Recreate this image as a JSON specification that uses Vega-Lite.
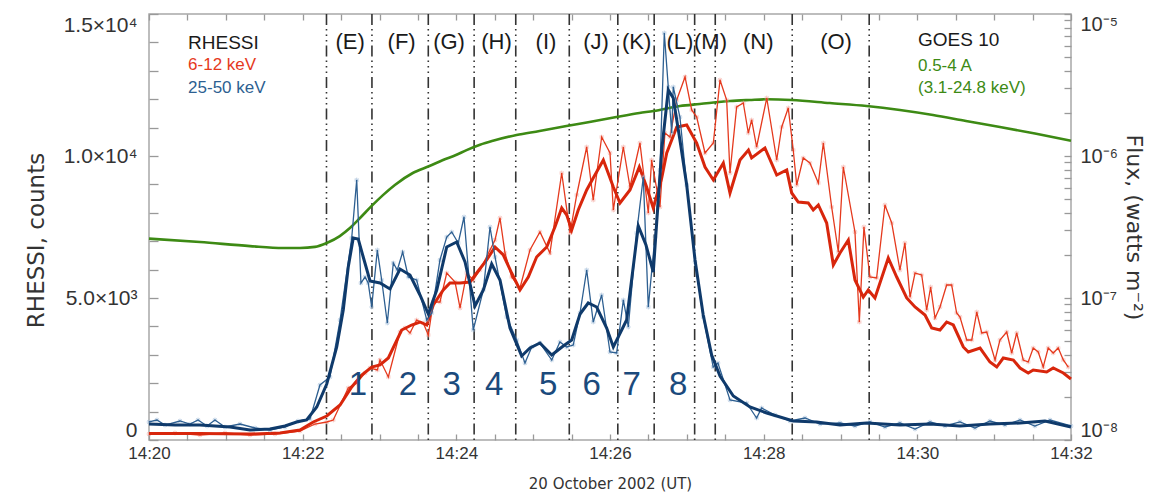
{
  "$schema": "https://vega.github.io/schema/vega-lite/v6.json",
  "width": 922,
  "height": 426,
  "autosize": {"type": "none"},
  "padding": {"left": 149, "top": 14, "right": 90, "bottom": 54},
  "background": "white",
  "config": {
    "view": {"stroke": "#a8a8a8", "strokeWidth": 1.5},
    "axis": {"domain": false, "grid": false, "tickColor": "#999999", "tickWidth": 1.3, "labelColor": "#333333", "titleColor": "#333333", "labelFont": "Liberation Sans", "titleFont": "DejaVu Sans", "titleFontWeight": "normal"},
    "text": {"font": "Liberation Sans"}
  },
  "datasets": {
    "bounds": [{"t":138.6},{"t":174.1},{"t":218.1},{"t":253.9},{"t":286.4},{"t":328.2},{"t":366.1},{"t":394.5},{"t":426.1},{"t":442.2},{"t":502.3},{"t":562.4}],
    "goes": [{"t":0,"f":2.62e-7},{"t":39.8,"f":2.48e-7},{"t":78.9,"f":2.32e-7},{"t":104.6,"f":2.25e-7},{"t":117.9,"f":2.25e-7},{"t":129.6,"f":2.29e-7},{"t":138.8,"f":2.44e-7},{"t":149,"f":2.73e-7},{"t":156.9,"f":3.11e-7},{"t":164.8,"f":3.66e-7},{"t":173.9,"f":4.45e-7},{"t":182.7,"f":5.3e-7},{"t":192,"f":6.25e-7},{"t":206,"f":7.59e-7},{"t":219,"f":8.5e-7},{"t":229.6,"f":9.37e-7},{"t":239.7,"f":1.016e-6},{"t":248,"f":1.1e-6},{"t":258.5,"f":1.2e-6},{"t":268.6,"f":1.28e-6},{"t":287,"f":1.406e-6},{"t":305,"f":1.5e-6},{"t":326,"f":1.627e-6},{"t":344,"f":1.736e-6},{"t":365,"f":1.882e-6},{"t":383,"f":2.008e-6},{"t":394,"f":2.075e-6},{"t":414.6,"f":2.25e-6},{"t":430,"f":2.324e-6},{"t":453.7,"f":2.44e-6},{"t":469,"f":2.48e-6},{"t":482.4,"f":2.508e-6},{"t":501.9,"f":2.48e-6},{"t":531.6,"f":2.361e-6},{"t":560.4,"f":2.25e-6},{"t":586.4,"f":2.109e-6},{"t":612.2,"f":1.944e-6},{"t":638,"f":1.764e-6},{"t":664.5,"f":1.6e-6},{"t":691.9,"f":1.44e-6},{"t":720,"f":1.281e-6}],
    "blueThick": [{"t":0,"c":563},{"t":20.3,"c":528},{"t":39.8,"c":528},{"t":63.3,"c":458},{"t":78.9,"c":352},{"t":94.5,"c":387},{"t":106.2,"c":493},{"t":115.3,"c":634},{"t":123.1,"c":704},{"t":131,"c":1162},{"t":138.8,"c":1972},{"t":146.6,"c":3275},{"t":151.7,"c":4577},{"t":155.6,"c":6092},{"t":159.5,"c":7113},{"t":163.4,"c":7077},{"t":167.3,"c":6444},{"t":172.6,"c":5599},{"t":180.4,"c":5528},{"t":188.2,"c":5317},{"t":196,"c":6021},{"t":203.8,"c":5810},{"t":211.6,"c":5106},{"t":218.1,"c":4437},{"t":224.7,"c":5282},{"t":232.5,"c":6796},{"t":240.3,"c":6972},{"t":246.8,"c":6268},{"t":254.6,"c":4718},{"t":261.1,"c":5282},{"t":267.6,"c":6197},{"t":274.1,"c":5634},{"t":281.9,"c":3944},{"t":291,"c":2958},{"t":297.5,"c":3239},{"t":305.3,"c":3415},{"t":314.5,"c":2993},{"t":323.5,"c":3310},{"t":330.1,"c":3521},{"t":336.6,"c":4437},{"t":343,"c":4824},{"t":349.6,"c":4683},{"t":357.4,"c":3944},{"t":362.6,"c":3275},{"t":373,"c":4225},{"t":382.1,"c":7535},{"t":388.1,"c":6866},{"t":393.8,"c":5915},{"t":400.4,"c":10211},{"t":405.5,"c":12324},{"t":409.4,"c":12042},{"t":414.6,"c":10563},{"t":419.9,"c":8979},{"t":426.4,"c":6338},{"t":432.8,"c":4401},{"t":439.4,"c":2993},{"t":445.9,"c":2253},{"t":456.3,"c":1549},{"t":469.3,"c":1162},{"t":482.4,"c":951},{"t":503.1,"c":669},{"t":521.4,"c":634},{"t":539.6,"c":528},{"t":560.4,"c":599},{"t":586.4,"c":528},{"t":609.9,"c":563},{"t":633.3,"c":493},{"t":656.7,"c":563},{"t":680.2,"c":599},{"t":699.7,"c":669},{"t":720,"c":458}],
    "blueThin": [{"t":0,"c":634},{"t":6.2,"c":704},{"t":12.5,"c":528},{"t":24.2,"c":669},{"t":32,"c":563},{"t":38.3,"c":704},{"t":45.3,"c":493},{"t":51.5,"c":704},{"t":59.3,"c":458},{"t":71.1,"c":563},{"t":82.8,"c":423},{"t":94.5,"c":352},{"t":106.2,"c":458},{"t":116.4,"c":669},{"t":125.7,"c":739},{"t":133.5,"c":1937},{"t":141.3,"c":2218},{"t":149.2,"c":4225},{"t":158.3,"c":7113},{"t":162.2,"c":9155},{"t":165.5,"c":5528},{"t":168.7,"c":5739},{"t":171.2,"c":5528},{"t":173.9,"c":4683},{"t":178.3,"c":6690},{"t":181.7,"c":5634},{"t":186.1,"c":4120},{"t":190.8,"c":6232},{"t":193.9,"c":5986},{"t":198.1,"c":6620},{"t":202.5,"c":5739},{"t":209,"c":5634},{"t":216.9,"c":4225},{"t":220.8,"c":4472},{"t":227.2,"c":6338},{"t":232.5,"c":7148},{"t":236.4,"c":7324},{"t":241.5,"c":6937},{"t":246,"c":7852},{"t":253.2,"c":3873},{"t":261.1,"c":5282},{"t":266.3,"c":7500},{"t":270.2,"c":6444},{"t":279.3,"c":4331},{"t":287.1,"c":3521},{"t":293.6,"c":2711},{"t":298.9,"c":3275},{"t":305.3,"c":3415},{"t":314.5,"c":2817},{"t":320.9,"c":3451},{"t":326.2,"c":3275},{"t":331.3,"c":3345},{"t":336.6,"c":4472},{"t":341.8,"c":5986},{"t":346.9,"c":4155},{"t":353.5,"c":5106},{"t":360,"c":3099},{"t":365.2,"c":3063},{"t":370.4,"c":4930},{"t":374.3,"c":3979},{"t":380.8,"c":7289},{"t":386,"c":9260},{"t":389.9,"c":4683},{"t":395.1,"c":7148},{"t":399,"c":9507},{"t":402.4,"c":14331},{"t":405.5,"c":12430},{"t":408.2,"c":10810},{"t":409.4,"c":12430},{"t":414.6,"c":11373},{"t":419.9,"c":8979},{"t":426.4,"c":6268},{"t":432.8,"c":4331},{"t":440.6,"c":2570},{"t":444.3,"c":2711},{"t":453.7,"c":1408},{"t":466.7,"c":1303},{"t":474.5,"c":775},{"t":478.4,"c":1127},{"t":488.8,"c":880},{"t":500.6,"c":669},{"t":512.3,"c":775},{"t":524,"c":563},{"t":539.6,"c":599},{"t":551.3,"c":493},{"t":563,"c":634},{"t":574.7,"c":458},{"t":586.4,"c":599},{"t":598.2,"c":387},{"t":609.9,"c":634},{"t":621.6,"c":493},{"t":633.3,"c":634},{"t":645,"c":423},{"t":656.7,"c":669},{"t":668.4,"c":528},{"t":680.2,"c":704},{"t":691.8,"c":493},{"t":703.6,"c":704},{"t":720,"c":493}],
    "redThick": [{"t":0,"c":229},{"t":39.8,"c":229},{"t":78.9,"c":211},{"t":102.3,"c":246},{"t":117.9,"c":352},{"t":128.3,"c":634},{"t":138.8,"c":845},{"t":149.2,"c":1232},{"t":158.3,"c":1866},{"t":166.1,"c":2289},{"t":173.9,"c":2570},{"t":180.4,"c":2641},{"t":186.9,"c":2887},{"t":197.3,"c":3873},{"t":205.1,"c":4049},{"t":211.6,"c":4155},{"t":216.9,"c":4049},{"t":222,"c":4753},{"t":229.8,"c":5282},{"t":235,"c":5528},{"t":242.9,"c":5528},{"t":250.7,"c":5563},{"t":255.9,"c":5880},{"t":263.7,"c":6338},{"t":270.2,"c":6796},{"t":276.7,"c":6514},{"t":283.2,"c":5880},{"t":289.7,"c":5282},{"t":296.2,"c":5739},{"t":302.7,"c":6444},{"t":310.6,"c":6796},{"t":317,"c":7500},{"t":322.3,"c":8169},{"t":326.2,"c":7922},{"t":330.1,"c":7394},{"t":335.2,"c":8099},{"t":341.8,"c":8803},{"t":346.9,"c":9225},{"t":354.8,"c":9859},{"t":362.6,"c":8908},{"t":367.8,"c":8345},{"t":375.6,"c":8803},{"t":382.9,"c":9613},{"t":388.6,"c":8908},{"t":393.8,"c":8169},{"t":400.4,"c":9225},{"t":404.3,"c":10106},{"t":412.1,"c":11021},{"t":419.9,"c":11091},{"t":427.7,"c":10458},{"t":434.2,"c":9613},{"t":440.7,"c":9155},{"t":448.5,"c":9753},{"t":453.7,"c":8697},{"t":461.5,"c":9859},{"t":468.1,"c":10211},{"t":470.6,"c":9930},{"t":481,"c":10281},{"t":490.2,"c":9331},{"t":498,"c":9507},{"t":501.9,"c":8697},{"t":507,"c":8380},{"t":514.8,"c":8345},{"t":518.7,"c":8099},{"t":522.7,"c":8275},{"t":529.2,"c":7641},{"t":534.4,"c":6162},{"t":539.6,"c":6584},{"t":546.1,"c":7042},{"t":551.3,"c":5634},{"t":557.8,"c":5035},{"t":561.7,"c":5282},{"t":566.9,"c":5000},{"t":577.3,"c":6408},{"t":583.9,"c":5739},{"t":591.7,"c":5000},{"t":598.2,"c":4683},{"t":606,"c":4401},{"t":611.2,"c":3944},{"t":617.7,"c":3873},{"t":622.9,"c":4155},{"t":628.1,"c":4049},{"t":635.9,"c":3275},{"t":639.8,"c":3099},{"t":649,"c":3239},{"t":656.7,"c":2746},{"t":662,"c":2570},{"t":667.1,"c":2887},{"t":675,"c":2817},{"t":680.2,"c":2535},{"t":686.6,"c":2359},{"t":690.5,"c":2465},{"t":701,"c":2394},{"t":706.1,"c":2535},{"t":714,"c":2359},{"t":720,"c":2148}],
    "redThin": [{"t":0,"c":211},{"t":20.3,"c":246},{"t":39.8,"c":176},{"t":59.3,"c":246},{"t":78.9,"c":176},{"t":98.4,"c":211},{"t":117.9,"c":317},{"t":129.6,"c":563},{"t":138.8,"c":634},{"t":143.9,"c":704},{"t":155.6,"c":1831},{"t":162.2,"c":2007},{"t":168.7,"c":2359},{"t":172.6,"c":2535},{"t":178.3,"c":2465},{"t":180.4,"c":2817},{"t":186.9,"c":2218},{"t":196,"c":3803},{"t":199.9,"c":3944},{"t":203.8,"c":3768},{"t":209,"c":4225},{"t":214.2,"c":4120},{"t":218.1,"c":3697},{"t":222,"c":4859},{"t":227.2,"c":4859},{"t":232.5,"c":5880},{"t":239,"c":5563},{"t":242.9,"c":4648},{"t":248.1,"c":5880},{"t":253.2,"c":5634},{"t":258.5,"c":5986},{"t":266.3,"c":6690},{"t":270.2,"c":7042},{"t":274.1,"c":7817},{"t":278,"c":6584},{"t":283.2,"c":5739},{"t":289.7,"c":5352},{"t":297.5,"c":6690},{"t":305.3,"c":7324},{"t":313.1,"c":6584},{"t":322.3,"c":9401},{"t":328.8,"c":7289},{"t":334,"c":8627},{"t":341.8,"c":10317},{"t":346.9,"c":8451},{"t":353.5,"c":10669},{"t":360,"c":10106},{"t":362.6,"c":8099},{"t":370.4,"c":10317},{"t":375.6,"c":8908},{"t":383.4,"c":10458},{"t":389.9,"c":7993},{"t":392.5,"c":9859},{"t":399,"c":8204},{"t":402.9,"c":10810},{"t":406.8,"c":10669},{"t":412.1,"c":11972},{"t":418.6,"c":12782},{"t":423.8,"c":11620},{"t":427.7,"c":11373},{"t":434.2,"c":10106},{"t":440.7,"c":10458},{"t":445.9,"c":12676},{"t":451.1,"c":11972},{"t":453.7,"c":9401},{"t":458.9,"c":11725},{"t":464.1,"c":11866},{"t":468,"c":10810},{"t":470.6,"c":11268},{"t":474.5,"c":10317},{"t":482.4,"c":12042},{"t":490.2,"c":9859},{"t":494.1,"c":11021},{"t":499.2,"c":11690},{"t":503.1,"c":10211},{"t":505.8,"c":8979},{"t":510.9,"c":9930},{"t":516.1,"c":9753},{"t":522.7,"c":9049},{"t":526.6,"c":10458},{"t":533.1,"c":8204},{"t":538.3,"c":6620},{"t":542.2,"c":9613},{"t":551.3,"c":7324},{"t":554.7,"c":4155},{"t":558.3,"c":7500},{"t":563,"c":5739},{"t":568.2,"c":5704},{"t":574.7,"c":8275},{"t":580,"c":7641},{"t":586.4,"c":5986},{"t":590.3,"c":6937},{"t":594.3,"c":5035},{"t":598.2,"c":5880},{"t":603.4,"c":5810},{"t":607.3,"c":4577},{"t":610.4,"c":5387},{"t":613.8,"c":4296},{"t":617.7,"c":4683},{"t":622.9,"c":5458},{"t":626.8,"c":5458},{"t":630.7,"c":4472},{"t":633.3,"c":4331},{"t":638.6,"c":3521},{"t":642.5,"c":3521},{"t":646.4,"c":4507},{"t":650.3,"c":3768},{"t":654.2,"c":3803},{"t":660.7,"c":2817},{"t":664.5,"c":3521},{"t":669.8,"c":3803},{"t":673.7,"c":3063},{"t":677.6,"c":3768},{"t":682.7,"c":2817},{"t":686.6,"c":2746},{"t":690.5,"c":3239},{"t":694.4,"c":3099},{"t":698.3,"c":2570},{"t":702.2,"c":3239},{"t":706.1,"c":3063},{"t":710,"c":3239},{"t":714,"c":2817},{"t":717.9,"c":2570}],
    "regions": [{"t":157,"c":14014,"label":"(E)"},{"t":197.3,"c":14014,"label":"(F)"},{"t":234.3,"c":14014,"label":"(G)"},{"t":271.4,"c":14014,"label":"(H)"},{"t":310,"c":14014,"label":"(I)"},{"t":349.1,"c":14014,"label":"(J)"},{"t":380.8,"c":14014,"label":"(K)"},{"t":414.6,"c":14014,"label":"(L)"},{"t":438.5,"c":14014,"label":"(M)"},{"t":475.8,"c":14014,"label":"(N)"},{"t":536.5,"c":14014,"label":"(O)"}],
    "numbers": [{"t":163.2,"c":1954,"label":"1"},{"t":202.2,"c":1954,"label":"2"},{"t":236.4,"c":1954,"label":"3"},{"t":269.6,"c":1954,"label":"4"},{"t":311.8,"c":1954,"label":"5"},{"t":345.7,"c":1954,"label":"6"},{"t":376.9,"c":1954,"label":"7"},{"t":413.3,"c":1954,"label":"8"}],
    "legendHead": [{"t":30.5,"c":13979,"label":"RHESSI"},{"t":600.5,"c":14084,"label":"GOES 10"}],
    "legendRed": [{"t":30.5,"c":13204,"label":"6-12 keV"}],
    "legendBlue": [{"t":30.5,"c":12394,"label":"25-50 keV"}],
    "legendGreen": [{"t":600.5,"c":13169,"label":"0.5-4 A"},{"t":600.5,"c":12377,"label":"(3.1-24.8 keV)"}]
  },
  "resolve": {"scale": {"y": "independent"}, "axis": {"x": "independent"}},
  "layer": [
    {
      "encoding": {
        "x": {"field": "t", "type": "quantitative", "scale": {"domain": [0, 720], "nice": false, "zero": false},
          "axis": {"orient": "top", "values": [0,30,60,90,120,150,180,210,240,270,300,330,360,390,420,450,480,510,540,570,600,630,660,690,720], "labels": false, "offset": -6, "tickSize": 6, "title": null}}
      },
      "layer": [
        {
          "data": {"name": "bounds"},
          "mark": {"type": "rule", "color": "#333333", "strokeWidth": 1.6, "strokeDash": [11, 4, 1.5, 4, 1.5, 4, 1.5, 4]}
        },
        {
          "data": {"name": "goes"},
          "mark": {"type": "line", "color": "#3d8a14", "strokeWidth": 2.6, "interpolate": "monotone"},
          "encoding": {
            "y": {"field": "f", "type": "quantitative",
              "scale": {"type": "log", "domain": [1e-8, 1e-5], "nice": false},
              "axis": {"orient": "right", "values": [1e-8,2e-8,3e-8,4e-8,5e-8,6e-8,7e-8,8e-8,9e-8,1e-7,2e-7,3e-7,4e-7,5e-7,6e-7,7e-7,8e-7,9e-7,1e-6,2e-6,3e-6,4e-6,5e-6,6e-6,7e-6,8e-6,9e-6,1e-5],
                "labelExpr": "abs(log(datum.value)/LN10 - round(log(datum.value)/LN10)) < 0.01 ? '10⁻' + ['⁰','¹','²','³','⁴','⁵','⁶','⁷','⁸','⁹'][-round(log(datum.value)/LN10)] : ''",
                "labelFlush": true, "labelFontSize": 20, "offset": -7, "tickSize": 7, "labelPadding": 9,
                "title": "Flux, (watts m⁻²)", "titleFontSize": 22}
            }
          }
        }
      ]
    },
    {
      "encoding": {
        "x": {"field": "t", "type": "quantitative", "scale": {"domain": [0, 720], "nice": false, "zero": false},
          "axis": {"orient": "bottom", "values": [0,30,60,90,120,150,180,210,240,270,300,330,360,390,420,450,480,510,540,570,600,630,660,690,720],
            "labelExpr": "datum.value % 120 === 0 ? '14:' + (20 + datum.value/60) : ''", "labelFlush": false, "labelFontSize": 17, "offset": -6, "tickSize": 6, "labelPadding": 5,
            "title": "20 October 2002 (UT)", "titleFontSize": 15, "titlePadding": 15}},
        "y": {"field": "c", "type": "quantitative", "scale": {"domain": [0, 15000], "nice": false},
          "axis": {"orient": "left", "values": [0,1000,2000,3000,4000,5000,6000,7000,8000,9000,10000,11000,12000,13000,14000,15000],
            "labelExpr": "datum.value == 15000 ? '1.5×10⁴' : datum.value == 10000 ? '1.0×10⁴' : datum.value == 5000 ? '5.0×10³' : datum.value == 0 ? '0' : ''",
            "labelFlush": true, "labelFontSize": 21, "offset": -9, "tickSize": 9, "labelPadding": 12,
            "title": "RHESSI, counts", "titleFontSize": 23, "titleY": 226, "titleX": -110}}
      },
      "layer": [
        {"data": {"name": "redThin"}, "mark": {"type": "point", "shape": "M-1,0L1,0M0,-1L0,1M-0.7,-0.7L0.7,0.7M-0.7,0.7L0.7,-0.7", "filled": false, "size": 22, "strokeWidth": 1, "color": "#f4a59c", "opacity": 0.7}},
        {"data": {"name": "redThin"}, "mark": {"type": "line", "color": "#e5391d", "strokeWidth": 1.3}},
        {"data": {"name": "redThick"}, "mark": {"type": "line", "color": "#d8260c", "strokeWidth": 3}},
        {"data": {"name": "blueThin"}, "mark": {"type": "point", "shape": "M-1,0L1,0M0,-1L0,1M-0.7,-0.7L0.7,0.7M-0.7,0.7L0.7,-0.7", "filled": false, "size": 22, "strokeWidth": 1, "color": "#9bb8d6", "opacity": 0.7}},
        {"data": {"name": "blueThin"}, "mark": {"type": "line", "color": "#2d5f91", "strokeWidth": 1.3}},
        {"data": {"name": "blueThick"}, "mark": {"type": "line", "color": "#0f3a6b", "strokeWidth": 3}},
        {"data": {"name": "regions"}, "mark": {"type": "text", "fontSize": 22, "color": "#1a1a1a", "align": "center", "baseline": "middle"}, "encoding": {"text": {"field": "label"}}},
        {"data": {"name": "numbers"}, "mark": {"type": "text", "fontSize": 33, "color": "#1b4a7c", "align": "center", "baseline": "middle"}, "encoding": {"text": {"field": "label"}}},
        {"data": {"name": "legendHead"}, "mark": {"type": "text", "fontSize": 19, "color": "#1a1a1a", "align": "left", "baseline": "middle"}, "encoding": {"text": {"field": "label"}}},
        {"data": {"name": "legendRed"}, "mark": {"type": "text", "fontSize": 17, "color": "#e5391d", "align": "left", "baseline": "middle"}, "encoding": {"text": {"field": "label"}}},
        {"data": {"name": "legendBlue"}, "mark": {"type": "text", "fontSize": 17, "color": "#2d5f91", "align": "left", "baseline": "middle"}, "encoding": {"text": {"field": "label"}}},
        {"data": {"name": "legendGreen"}, "mark": {"type": "text", "fontSize": 17, "color": "#3d8a14", "align": "left", "baseline": "middle"}, "encoding": {"text": {"field": "label"}}}
      ]
    }
  ]
}
